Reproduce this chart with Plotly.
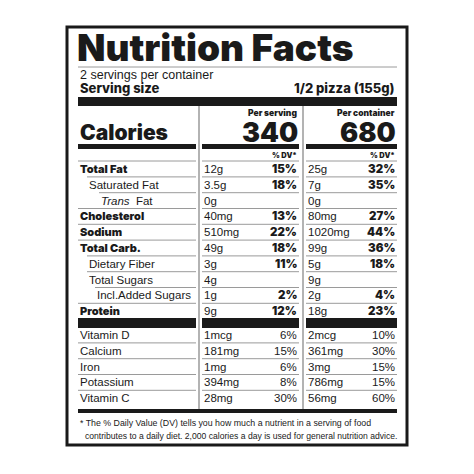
import plotly.graph_objects as go

labels = ["Total Fat", "Saturated Fat", "Trans Fat", "Cholesterol", "Sodium", "Total Carb.",
          "Dietary Fiber", "Total Sugars", "Incl.Added Sugars", "Protein"]
bold_rows = [True, False, False, True, True, True, False, False, False, True]
indent = [0, 9, 21, 0, 0, 0, 9, 9, 17, 0]
serv_amt = ["12g", "3.5g", "0g", "40mg", "510mg", "49g", "3g", "4g", "1g", "9g"]
serv_dv = ["15%", "18%", "", "13%", "22%", "18%", "11%", "", "2%", "12%"]
cont_amt = ["25g", "7g", "0g", "80mg", "1020mg", "99g", "5g", "9g", "2g", "18g"]
cont_dv = ["32%", "35%", "", "27%", "44%", "36%", "18%", "", "4%", "23%"]

vit_labels = ["Vitamin D", "Calcium", "Iron", "Potassium", "Vitamin C"]
vit_serv_amt = ["1mcg", "181mg", "1mg", "394mg", "28mg"]
vit_serv_dv = ["6%", "15%", "6%", "8%", "30%"]
vit_cont_amt = ["2mcg", "361mg", "3mg", "786mg", "56mg"]
vit_cont_dv = ["10%", "30%", "15%", "15%", "60%"]

cal_serv, cal_cont = "340", "680"

F = "Liberation Sans"
HF = "Inter"
shapes, ann = [], []

def rect(x0, y0, x1, y1, color="#1a1a1a"):
    shapes.append(dict(type="rect", x0=x0, x1=x1, y0=y0, y1=y1, fillcolor=color, line_width=0, layer="above"))

def line(x0, y0, x1, y1, color="#9a9a9a", w=1):
    shapes.append(dict(type="line", x0=x0, x1=x1, y0=y0, y1=y1, line=dict(color=color, width=w), layer="above"))

def txt(x, y, s, size=11.5, bold=False, anchor="left", font=F, weight=None):
    f = dict(family=font, size=size, color="#1a1a1a")
    if weight:
        f["weight"] = weight
    ann.append(dict(x=x, y=y, text=s, showarrow=False, xanchor=anchor, yanchor="middle", font=f))

shapes.append(dict(type="rect", x0=67, x1=407, y0=27, y1=445, line=dict(color="#1a1a1a", width=3), fillcolor="rgba(0,0,0,0)"))
txt(75, 47, "Nutrition Facts", size=37, font=HF, weight=900)
line(78, 67, 397, 67)
txt(78, 75, "2 servings per container", size=12.5)
txt(78, 88, "Serving size", size=13, font=HF, weight=800)
txt(397, 88, "1/2 pizza (155g)", size=13, font=HF, weight=800, anchor="right")
rect(78, 97, 397, 106)
line(199, 106, 199, 409, color="#9a9a9a", w=1.5)
line(303, 106, 303, 409, color="#9a9a9a", w=1.5)
txt(299, 113, "Per serving", size=8.5, font=HF, weight=900, anchor="right")
txt(397, 113, "Per container", size=8.5, font=HF, weight=900, anchor="right")
txt(300, 132, cal_serv, size=27, font=HF, weight=900, anchor="right")
txt(398, 132, cal_cont, size=27, font=HF, weight=900, anchor="right")
txt(78, 132, "Calories", size=21, font=HF, weight=900)
for a, b in [(78, 196), (202, 299), (306, 397)]:
    rect(a, 144, b, 149)
txt(299, 155, "% DV*", size=7.5, font=HF, weight=900, anchor="right")
txt(397, 155, "% DV*", size=7.5, font=HF, weight=900, anchor="right")
for a, b in [(78, 196), (202, 299), (306, 397)]:
    line(a, 161, b, 161)

pitch = 15.8
for i, lab in enumerate(labels):
    y = 169 + i * pitch
    if lab == "Trans Fat":
        txt(78 + indent[i], y, "<i>Trans</i>  Fat", size=11.5)
    elif bold_rows[i]:
        txt(78, y, lab, size=11, font=HF, weight=900)
    else:
        txt(78 + indent[i], y, lab, size=11.5)
    txt(202, y, serv_amt[i], size=11.5)
    txt(306, y, cont_amt[i], size=11.5)
    if serv_dv[i]:
        txt(299, y, serv_dv[i], size=11.5, font=HF, weight=900, anchor="right")
        txt(397, y, cont_dv[i], size=11.5, font=HF, weight=900, anchor="right")
    if i < len(labels) - 1:
        yl = y + pitch / 2
        x0 = 78 + (indent[i + 1] if not bold_rows[i + 1] else 0)
        line(x0, yl, 196, yl)
        line(202, yl, 299, yl)
        line(306, yl, 397, yl)

for a, b in [(78, 196), (202, 299), (306, 397)]:
    rect(a, 318, b, 328)

for i, lab in enumerate(vit_labels):
    y = 335 + i * pitch
    txt(78, y, lab, size=11.5)
    txt(202, y, vit_serv_amt[i], size=11.5)
    txt(299, y, vit_serv_dv[i], size=11.5, anchor="right")
    txt(306, y, vit_cont_amt[i], size=11.5)
    txt(397, y, vit_cont_dv[i], size=11.5, anchor="right")
    if i < len(vit_labels) - 1:
        yl = y + pitch / 2
        line(78, yl, 196, yl)
        line(202, yl, 299, yl)
        line(306, yl, 397, yl)

rect(78, 409, 397, 413)
txt(78, 423, "* The % Daily Value (DV) tells you how much a nutrient in a serving of food", size=8.8)
txt(83, 436, "contributes to a daily diet. 2,000 calories a day is used for general nutrition advice.", size=8.6)

fig = go.Figure()
fig.update_layout(width=474, height=474, margin=dict(l=0, r=0, t=0, b=0),
                  paper_bgcolor="white", plot_bgcolor="white",
                  xaxis=dict(range=[8, 482], visible=False, fixedrange=True),
                  yaxis=dict(range=[482, 8], visible=False, fixedrange=True),
                  shapes=shapes, annotations=ann, showlegend=False)
fig.write_html("out.html", config={"displayModeBar": False})
